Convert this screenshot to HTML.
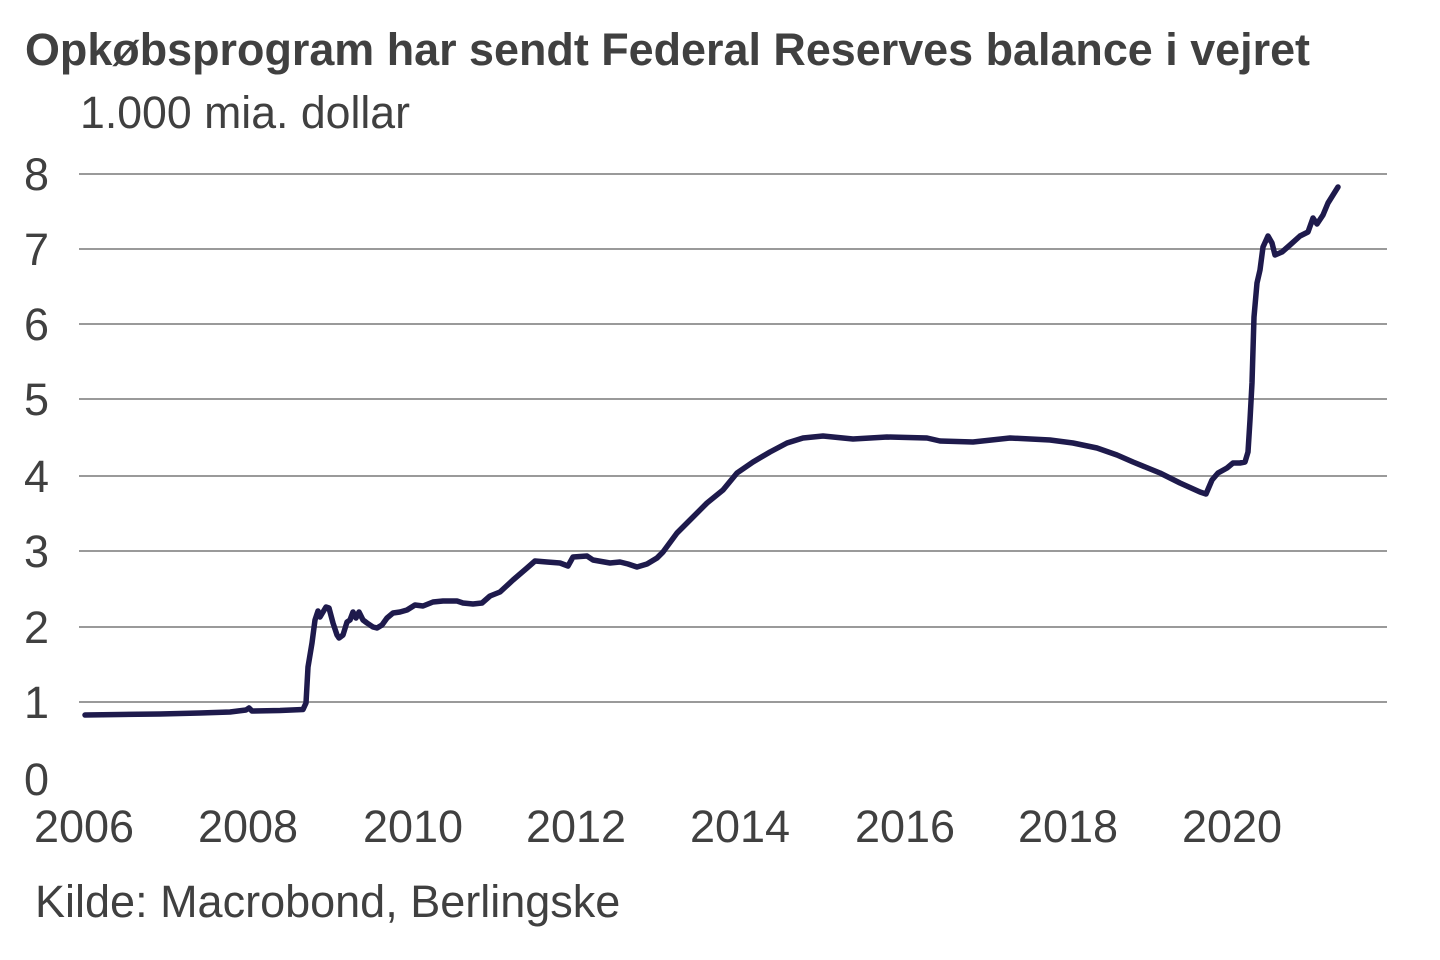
<!DOCTYPE html>
<html>
<head>
<meta charset="utf-8">
<style>
  html, body { margin: 0; padding: 0; background: #ffffff; }
  body { width: 1440px; height: 960px; overflow: hidden; }
  svg { display: block; }
  text { font-family: "Liberation Sans", Arial, sans-serif; fill: #404040; }
</style>
</head>
<body>
<svg width="1440" height="960" viewBox="0 0 1440 960" xmlns="http://www.w3.org/2000/svg">
  <rect x="0" y="0" width="1440" height="960" fill="#ffffff"/>

  <!-- Title -->
  <text x="25" y="65" font-size="45" font-weight="bold" fill="#3c3c3c" textLength="1285" lengthAdjust="spacingAndGlyphs">Opkøbsprogram har sendt Federal Reserves balance i vejret</text>
  <!-- Subtitle -->
  <text x="80" y="128" font-size="45" textLength="330" lengthAdjust="spacingAndGlyphs">1.000 mia. dollar</text>

  <!-- Gridlines -->
  <g stroke="#9a9a9a" stroke-width="2">
    <line x1="79" y1="174" x2="1387" y2="174"/>
    <line x1="79" y1="249" x2="1387" y2="249"/>
    <line x1="79" y1="324" x2="1387" y2="324"/>
    <line x1="79" y1="399" x2="1387" y2="399"/>
    <line x1="79" y1="476" x2="1387" y2="476"/>
    <line x1="79" y1="551" x2="1387" y2="551"/>
    <line x1="79" y1="627" x2="1387" y2="627"/>
    <line x1="79" y1="702" x2="1387" y2="702"/>
  </g>

  <!-- Y labels -->
  <g font-size="45">
    <text x="24" y="190">8</text>
    <text x="24" y="265">7</text>
    <text x="24" y="340">6</text>
    <text x="24" y="415">5</text>
    <text x="24" y="492">4</text>
    <text x="24" y="567">3</text>
    <text x="24" y="643">2</text>
    <text x="24" y="718">1</text>
    <text x="24" y="795">0</text>
  </g>

  <!-- X labels -->
  <g font-size="45" text-anchor="middle">
    <text x="84" y="842">2006</text>
    <text x="248" y="842">2008</text>
    <text x="413" y="842">2010</text>
    <text x="576" y="842">2012</text>
    <text x="740" y="842">2014</text>
    <text x="905" y="842">2016</text>
    <text x="1068" y="842">2018</text>
    <text x="1232" y="842">2020</text>
  </g>

  <!-- Source -->
  <text x="35" y="917" font-size="45">Kilde: Macrobond, Berlingske</text>

  <!-- Series -->
  <polyline fill="none" stroke="#1e1a4c" stroke-width="5.5" stroke-linejoin="round" stroke-linecap="round"
    points="85,715 120,714.5 160,714 200,713 230,712 246,710 249,708 252,711 280,710.5 303,709.5 306,703 308,667 312,643 315,620 318,611 320,617 323,612 326,607 329,608 333,623 337,635 339,638 343,635 347,622 350,620 353,612 356,618 359,612 363,620 367,623 373,627 377,628 382,625 387,618 393,613 400,612 407,610 415,605 423,606 433,602 443,601 457,601 463,603 473,604 482,603 490,596 500,592 513,580 527,568 535,561 547,562 560,563 568,566 573,557 587,556 593,560 610,563 620,562 628,564 637,567 647,564 657,558 663,552 677,533 690,520 707,503 723,490 737,473 753,462 770,452 787,443 803,438 823,436 853,439 887,437 927,438 940,441 973,442 1010,438 1050,440 1073,443 1097,448 1117,455 1133,462 1160,473 1180,483 1200,492 1206,494 1212,480 1218,473 1227,468 1233,463 1240,463 1245,462 1248,452 1250,420 1252,383 1254,317 1257,283 1260,270 1263,247 1268,236 1272,243 1275,255 1282,252 1290,245 1300,236 1308,232 1313,218 1317,224 1323,215 1328,203 1333,195 1338,187"/>
</svg>
</body>
</html>
